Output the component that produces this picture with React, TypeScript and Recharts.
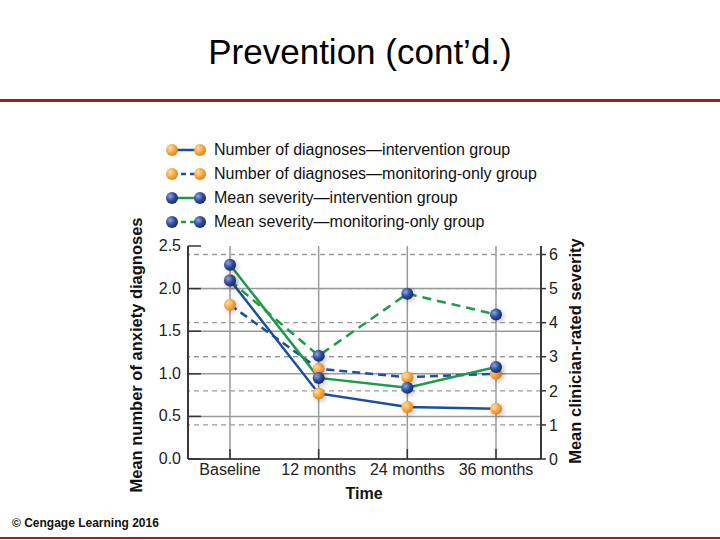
import { LineChart, Line, XAxis, YAxis, CartesianGrid, ReferenceLine } from 'recharts'

const timePoints = ['Baseline', '12 months', '24 months', '36 months']
const diagIntervention = [2.1, 0.77, 0.61, 0.59]
const diagMonitoring = [1.81, 1.06, 0.96, 1.0]
const sevIntervention = [5.7, 2.38, 2.09, 2.7]
const sevMonitoring = [5.24, 3.03, 4.85, 4.24]
const leftTicks = [0, 0.5, 1.0, 1.5, 2.0, 2.5]
const rightTicks = [0, 1, 2, 3, 4, 5, 6]

const legendItems = [
  { label: 'Number of diagnoses\u2014intervention group', dot: 'orange', line: '#1b4f9b', dashed: false },
  { label: 'Number of diagnoses\u2014monitoring-only group', dot: 'orange', line: '#1b4f9b', dashed: true },
  { label: 'Mean severity\u2014intervention group', dot: 'blue', line: '#1e9a4a', dashed: false },
  { label: 'Mean severity\u2014monitoring-only group', dot: 'blue', line: '#1e9a4a', dashed: true },
]

const FONT = '"Liberation Sans", Arial, sans-serif'
const BLUE = '#1b4f9b'
const GREEN = '#1e9a4a'
const GRID = '#9a9a9a'

const data = timePoints.map((t, i) => ({
  time: t,
  diagInt: diagIntervention[i],
  diagMon: diagMonitoring[i],
  sevInt: sevIntervention[i],
  sevMon: sevMonitoring[i],
}))

function Ball({ cx, cy, kind }: { cx?: number; cy?: number; kind: string }) {
  if (cx == null || cy == null) return null
  return (
    <g>
      <circle cx={cx + 2} cy={cy + 2} r={6.5} fill="#000" opacity={0.18} filter="url(#shadow)" />
      <circle cx={cx} cy={cy} r={6} fill={kind === 'orange' ? 'url(#orangeBall)' : 'url(#blueBall)'} />
    </g>
  )
}

function LeftTick(props: any) {
  const { x, y, payload } = props
  return (
    <g>
      <line x1={x + 7} x2={x + 20} y1={y} y2={y} stroke="#333" strokeWidth={1.5} />
      <text x={x} y={y} dy={5} textAnchor="end" fill="#222" fontSize={16} fontFamily={FONT}>
        {payload.value.toFixed(1)}
      </text>
    </g>
  )
}

function BottomTick(props: any) {
  const { x, y, payload } = props
  return (
    <g>
      <line x1={x} x2={x} y1={y - 4} y2={y - 14} stroke="#333" strokeWidth={1.5} />
      <text x={x} y={y} dy={12} textAnchor="middle" fill="#222" fontSize={16} fontFamily={FONT}>
        {payload.value}
      </text>
    </g>
  )
}

function LegendMark({ dot, line, dashed }: { dot: string; line: string; dashed: boolean }) {
  return (
    <svg width={44} height={18} style={{ display: 'block' }}>
      <defs>
        <radialGradient id={`lg-${dot}`} cx="35%" cy="35%" r="70%">
          <stop offset="0%" stopColor={dot === 'orange' ? '#ffe0a8' : '#8fa6dc'} />
          <stop offset="55%" stopColor={dot === 'orange' ? '#f7a640' : '#2f4b9c'} />
          <stop offset="100%" stopColor={dot === 'orange' ? '#d98420' : '#172a66'} />
        </radialGradient>
      </defs>
      <line x1={8} x2={36} y1={9} y2={9} stroke={line} strokeWidth={2.5} strokeDasharray={dashed ? '5 4' : undefined} />
      <circle cx={8} cy={9} r={6} fill={`url(#lg-${dot})`} />
      <circle cx={36} cy={9} r={6} fill={`url(#lg-${dot})`} />
    </svg>
  )
}

export default function App() {
  return (
    <div style={{ position: 'absolute', left: 0, top: 0, width: 720, height: 540, background: '#fff', fontFamily: FONT }}>
      <div style={{ position: 'absolute', left: 0, top: 32, width: 720, textAlign: 'center', fontSize: 35, color: '#000' }}>
        Prevention (cont’d.)
      </div>
      <div style={{ position: 'absolute', left: 0, top: 99, width: 720, height: 3, background: '#a3201e' }} />
      <div style={{ position: 'absolute', left: 0, top: 537, width: 720, height: 2, background: '#8a2a2a' }} />

      <LineChart
        width={720}
        height={540}
        data={data}
        margin={{ top: 246, right: 119, bottom: 51, left: 128 }}
        style={{ position: 'absolute', left: 0, top: 0 }}
      >
        <defs>
          <radialGradient id="orangeBall" cx="35%" cy="35%" r="70%">
            <stop offset="0%" stopColor="#ffe0a8" />
            <stop offset="55%" stopColor="#f7a640" />
            <stop offset="100%" stopColor="#d98420" />
          </radialGradient>
          <radialGradient id="blueBall" cx="35%" cy="35%" r="70%">
            <stop offset="0%" stopColor="#8fa6dc" />
            <stop offset="55%" stopColor="#2f4b9c" />
            <stop offset="100%" stopColor="#172a66" />
          </radialGradient>
          <filter id="shadow" x="-50%" y="-50%" width="200%" height="200%">
            <feGaussianBlur stdDeviation="2" />
          </filter>
        </defs>
        <CartesianGrid horizontal={false} stroke={GRID} strokeWidth={1.5} />
        <XAxis
          dataKey="time"
          padding={{ left: 42, right: 45 }}
          axisLine={{ stroke: '#111', strokeWidth: 1.5 }}
          tickLine={false}
          tickSize={0}
          tickMargin={4}
          tick={<BottomTick />}
          height={30}
        />
        <YAxis
          yAxisId="left"
          domain={[0, 2.5]}
          ticks={leftTicks}
          width={60}
          axisLine={{ stroke: '#111', strokeWidth: 1.5 }}
          tickLine={false}
          tickSize={0}
          tickMargin={7}
          tick={<LeftTick />}
        />
        <YAxis
          yAxisId="right"
          orientation="right"
          domain={[0, 6.25]}
          ticks={rightTicks}
          width={60}
          axisLine={{ stroke: '#111', strokeWidth: 1.5 }}
          tickLine={{ stroke: '#333', strokeWidth: 1.5 }}
          tickSize={5}
          tickMargin={3}
          tick={{ fill: '#222', fontSize: 16, fontFamily: FONT }}
        />
        {leftTicks.slice(1, 5).map((v) => (
          <ReferenceLine key={`l${v}`} yAxisId="left" y={v} stroke={GRID} strokeWidth={1.5} />
        ))}
        {rightTicks.slice(1).map((v) => (
          <ReferenceLine key={`r${v}`} yAxisId="right" y={v} stroke={GRID} strokeWidth={1.3} strokeDasharray="5 4" />
        ))}
        <Line
          yAxisId="left"
          dataKey="diagMon"
          stroke={BLUE}
          strokeWidth={2.5}
          strokeDasharray="8 5"
          dot={<Ball kind="orange" />}
          activeDot={false}
          isAnimationActive={false}
        />
        <Line
          yAxisId="left"
          dataKey="diagInt"
          stroke={BLUE}
          strokeWidth={2.5}
          dot={<Ball kind="orange" />}
          activeDot={false}
          isAnimationActive={false}
        />
        <Line
          yAxisId="right"
          dataKey="sevMon"
          stroke={GREEN}
          strokeWidth={2.5}
          strokeDasharray="9 6"
          dot={<Ball kind="blue" />}
          activeDot={false}
          isAnimationActive={false}
        />
        <Line
          yAxisId="right"
          dataKey="sevInt"
          stroke={GREEN}
          strokeWidth={2.5}
          dot={<Ball kind="blue" />}
          activeDot={false}
          isAnimationActive={false}
        />
      </LineChart>

      <div style={{ position: 'absolute', left: 164, top: 138 }}>
        {legendItems.map((it) => (
          <div key={it.label} style={{ display: 'flex', alignItems: 'center', height: 24 }}>
            <LegendMark dot={it.dot} line={it.line} dashed={it.dashed} />
            <span style={{ fontSize: 16, color: '#111', marginLeft: 6, whiteSpace: 'nowrap' }}>{it.label}</span>
          </div>
        ))}
      </div>

      <div
        style={{
          position: 'absolute',
          left: 136,
          top: 355,
          transform: 'translate(-50%, -50%) rotate(-90deg)',
          fontSize: 16.5,
          fontWeight: 'bold',
          whiteSpace: 'nowrap',
          color: '#111',
        }}
      >
        Mean number of anxiety diagnoses
      </div>
      <div
        style={{
          position: 'absolute',
          left: 575,
          top: 351,
          transform: 'translate(-50%, -50%) rotate(-90deg)',
          fontSize: 16.5,
          fontWeight: 'bold',
          whiteSpace: 'nowrap',
          color: '#111',
        }}
      >
        Mean clinician-rated severity
      </div>
      <div
        style={{
          position: 'absolute',
          left: 364,
          top: 494,
          transform: 'translate(-50%, -50%)',
          fontSize: 16,
          fontWeight: 'bold',
          color: '#111',
        }}
      >
        Time
      </div>
      <div style={{ position: 'absolute', left: 12, top: 516, fontSize: 12, fontWeight: 'bold', color: '#111' }}>
        © Cengage Learning 2016
      </div>
    </div>
  )
}
